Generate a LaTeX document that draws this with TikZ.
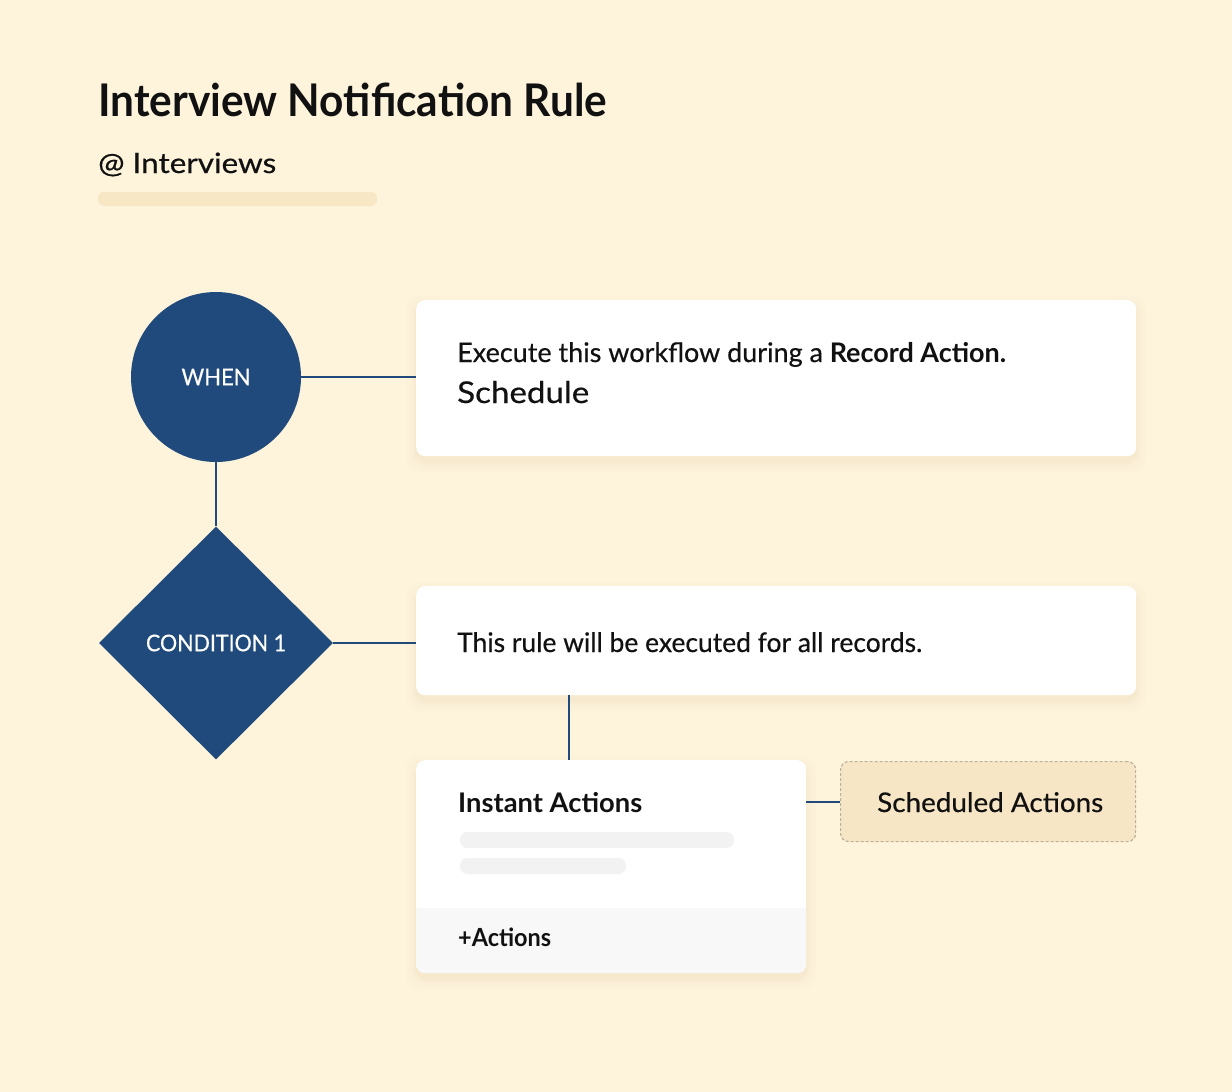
\documentclass[tikz,border=0pt]{standalone}
\usepackage{fontspec}
\setmainfont{Lato}
\newfontfamily\medfont{Lato}[FakeBold=0.5]
\usetikzlibrary{shapes.geometric}
\definecolor{bgc}{HTML}{FEF4DC}
\definecolor{navy}{HTML}{204A7B}
\definecolor{barc}{HTML}{F8E7C4}
\definecolor{schedfill}{HTML}{F7E6C5}
\definecolor{schedline}{HTML}{BDB09A}
\definecolor{skel}{HTML}{F2F2F2}
\definecolor{footc}{HTML}{F8F8F8}
\definecolor{ink}{HTML}{111111}
\definecolor{shadc}{HTML}{C9AE7E}
\newlength\fitlen
\newcommand\fitw[2]{\settowidth\fitlen{#2}\pgfmathsetmacro\fitr{#1/\fitlen}\scalebox{\fitr}[1]{#2}}
\newcommand\softshadow[4]{%
  \foreach \d/\o in {1/0.05,3/0.04,6/0.03,10/0.02}{%
    \fill[shadc, opacity=\o, rounded corners=12pt] ({#1-\d},{#2-\d+6}) rectangle ({#3+\d},{#4+\d+6});}}
\begin{document}
\begin{tikzpicture}[x=1pt,y=-1pt,
  txt/.style={anchor=base west, inner sep=0pt, text=ink},
  card/.style={fill=white, rounded corners=9pt, draw=none, inner sep=0pt, anchor=north west},
  link/.style={draw=navy, line width=1.8pt},
  skelbar/.style={fill=skel, rounded corners=7.5pt}]
\fill[bgc] (0,0) rectangle (1232,1092);
\useasboundingbox (0,0) rectangle (1232,1092);

% header
\node[txt, font=\fontsize{45}{50}\selectfont\bfseries] (title) at (98,116) {\fitw{509}{Interview Notification Rule}};
\node[txt, font=\fontsize{28}{32}\selectfont\medfont] (module) at (98,173) {\fitw{178}{@ Interviews}};
\fill[barc, rounded corners=6pt] (98,192) rectangle (377,206);

% shadows
\softshadow{416}{300}{1136}{456}
\softshadow{416}{586}{1136}{695}
\softshadow{416}{760}{806}{973}

% WHEN
\node[circle, fill=navy, minimum size=170pt, inner sep=0pt, text=white,
      font=\fontsize{23}{25}\selectfont\medfont] (when) at (216,377) {\fitw{69}{WHEN}};
\node[card, minimum width=720pt, minimum height=156pt] (b1) at (416,300) {};
\node[txt, font=\fontsize{27}{30}\selectfont\medfont] (t1) at (457,362)
  {\fitw{549}{Execute this workflow during a {\rmfamily\bfseries Record Action.}}};
\node[txt, font=\fontsize{30}{32}\selectfont\medfont] (t2) at (457,403) {\fitw{132}{Schedule}};

% CONDITION
\node[diamond, aspect=1, fill=navy, minimum width=234pt, minimum height=233pt, inner sep=0pt,
      text=white, font=\fontsize{23}{25}\selectfont\medfont] (cond) at (216,643) {\fitw{140}{CONDITION 1}};
\node[card, minimum width=720pt, minimum height=109pt] (b2) at (416,586) {};
\node[txt, font=\fontsize{27}{30}\selectfont\medfont] (t3) at (457,652)
  {\fitw{465}{This rule will be executed for all records.}};

% Instant actions card
\node[card, minimum width=390pt, minimum height=213pt] (b3) at (416,760) {};
\begin{scope}
  \clip[rounded corners=9pt] (416,760) rectangle (806,973);
  \fill[footc] (416,908) rectangle (806,973);
\end{scope}
\node[txt, font=\fontsize{27}{30}\selectfont\bfseries] (t4) at (458,812) {\fitw{184}{Instant Actions}};
\fill[skelbar] (460,832) rectangle (734,848);
\fill[skelbar] (460,858) rectangle (626,874);
\node[txt, font=\fontsize{25}{28}\selectfont\bfseries] (t5) at (458,946) {\fitw{93}{+Actions}};

% Scheduled actions
\node[fill=schedfill, draw=schedline, dash pattern=on 3pt off 2pt, line width=1.2pt,
      rounded corners=8pt, minimum width=295pt, minimum height=80pt, inner sep=0pt,
      anchor=north west] (sched) at (840,761) {};
\node[txt, font=\fontsize{27}{30}\selectfont\medfont] (t6) at (877,812) {\fitw{226}{Scheduled Actions}};

% connectors
\draw[link] (when.east) -- (when.east -| b1.west);
\draw[link] (when.south) -- (cond.north);
\draw[link] (cond.east) -- (cond.east -| b2.west);
\coordinate (drop) at (569,700);
\draw[link] (drop |- b2.south) -- (drop |- b3.north);
\draw[link] (b3.east |- sched.west) -- (sched.west);
\end{tikzpicture}
\end{document}
